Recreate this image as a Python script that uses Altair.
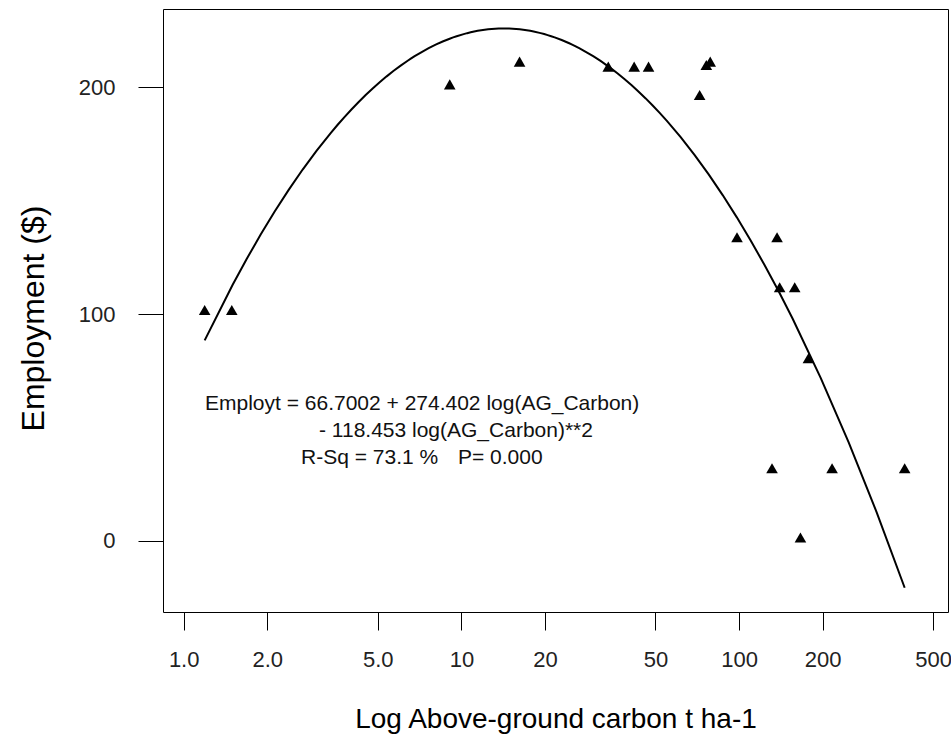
import altair as alt
import pandas as pd

# ---- data ----
carbon = [1.19, 1.49, 9.08, 16.2, 33.8, 41.9, 47.2, 72.1, 76.2, 78.7,
          98.3, 137.0, 140.0, 158.6, 177.7, 131.4, 216.2, 394.7, 166.3]
employment = [101.8, 101.8, 201.2, 211.2, 209.0, 209.0, 209.0, 196.5, 209.7, 211.2,
              133.8, 133.8, 111.8, 111.8, 80.5, 32.0, 32.0, 32.0, 1.5]
x_ticks = [1, 2, 5, 10, 20, 50, 100, 200, 500]
y_ticks = [0, 100, 200]
eq_line1 = "Employt = 66.7002 + 274.402 log(AG_Carbon)"
eq_line2 = "- 118.453 log(AG_Carbon)**2"
eq_rsq = "R-Sq = 73.1 %"
eq_p = "P= 0.000"
x_title = "Log Above-ground carbon t ha-1"
y_title = "Employment ($)"

df = pd.DataFrame({"carbon": carbon, "employment": employment})

FONT = "Liberation Sans"
W, H = 785, 603

xscale = alt.Scale(type="log", domain=[0.8424, 565.3], nice=False)
yscale = alt.Scale(domain=[-31.3, 234.4], nice=False, zero=False)

xaxis = alt.Axis(
    values=x_ticks, title=x_title,
    labelExpr="datum.value < 10 ? format(datum.value, '.1f') : format(datum.value, 'd')",
    grid=False, domain=False, tickSize=18, tickColor="black", tickWidth=1,
    labelFont=FONT, labelFontSize=22, labelColor="#222222", labelPadding=19,
    labelBaseline="top", labelFlush=False, labelOverlap=False,
    titleFont=FONT, titleFontSize=28, titleFontWeight="normal", titleColor="black",
    titleX=W / 2, titleY=115, titleAlign="center", titleBaseline="alphabetic",
)
yaxis = alt.Axis(
    values=y_ticks, title=y_title, format="d",
    grid=False, domain=False, tickSize=25, tickColor="black", tickWidth=1,
    labelFont=FONT, labelFontSize=22, labelColor="#222222", labelPadding=23,
    labelBaseline="middle", labelFlush=False, labelOverlap=False,
    titleFont=FONT, titleFontSize=32, titleFontWeight="normal", titleColor="black",
    titleAngle=270, titleX=-120, titleY=309, titleAlign="center", titleBaseline="alphabetic",
)

points = alt.Chart(df).mark_point(
    shape="triangle-up", filled=True, size=135, color="black", opacity=1
).encode(
    x=alt.X("carbon:Q", scale=xscale, axis=xaxis),
    y=alt.Y("employment:Q", scale=yscale, axis=yaxis),
)

curve = alt.Chart(df).transform_calculate(
    lx="log(datum.carbon) / LN10"
).transform_regression(
    "lx", "employment", method="poly", order=2
).transform_calculate(
    carbon="pow(10, datum.lx)"
).mark_line(color="black", strokeWidth=2, clip=True).encode(
    x=alt.X("carbon:Q", scale=xscale),
    y=alt.Y("employment:Q", scale=yscale),
)


def label(txt, px, py):
    return alt.Chart(pd.DataFrame({"t": [txt]})).mark_text(
        align="left", baseline="alphabetic", font=FONT, fontSize=21, color="#111111"
    ).encode(text="t:N", x=alt.value(px), y=alt.value(py))


chart = alt.layer(
    curve,
    points,
    label(eq_line1, 42, 401),
    label(eq_line2, 156, 428),
    label(eq_rsq, 138, 455),
    label(eq_p, 295, 455),
).properties(
    width=W, height=H,
    autosize=alt.AutoSizeParams(type="none"),
    padding={"left": 163, "top": 9, "right": 3, "bottom": 128},
    background="white",
).configure_view(
    stroke="black", strokeWidth=1
)

chart.save("out.html", embed_options={"renderer": "svg", "actions": False})
